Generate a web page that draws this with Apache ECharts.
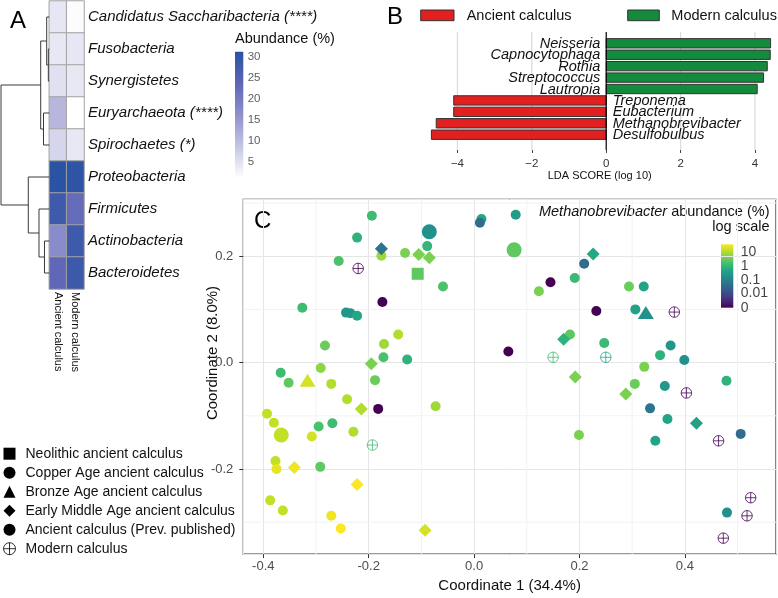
<!DOCTYPE html>
<html><head><meta charset="utf-8">
<script src="https://cdn.jsdelivr.net/npm/echarts@6/dist/echarts.min.js"></script>
<style>html,body{margin:0;padding:0;background:#fff}#c{width:778px;height:598px}</style>
</head><body><div id="c"></div>
<script>
// ---------- Panel A data ----------
const phyla = ['Candidatus Saccharibacteria (****)','Fusobacteria','Synergistetes','Euryarchaeota (****)','Spirochaetes (*)','Proteobacteria','Firmicutes','Actinobacteria','Bacteroidetes'];
const groupsA = ['Ancient calculus','Modern calculus'];
const abundAncient = [4.3, 4.1, 5.1, 10.6, 6.5, 31.0, 28.2, 17.0, 23.5];
const abundModern  = [1.5, 4.3, 4.1, 1.1, 4.1, 30.5, 22.8, 28.3, 28.4];
const abundTicks = [5, 10, 15, 20, 25, 30];
// dendrogram merges: [childA, childB, height]; child = leaf index or 'm<k>' (k-th merge)
const dendroMerges = [[1,2,0.02],[0,'m0',0.054],[3,4,0.12],['m1','m2',0.178],[7,8,0.10],[6,'m4',0.213],[5,'m5',0.435],['m3','m6',1.0]];

// ---------- Panel B data ----------
const ldaTaxa = ['Neisseria','Capnocytophaga','Rothia','Streptococcus','Lautropia','Treponema','Eubacterium','Methanobrevibacter','Desulfobulbus'];
const ldaScores = [4.42, 4.41, 4.33, 4.23, 4.06, -4.10, -4.10, -4.57, -4.70];
const ldaTicks = [-4, -2, 0, 2, 4];

// ---------- Panel C data: [coord1, coord2, Methanobrevibacter abundance %] ----------
const neolithic = [[-0.107, 0.167, 2.7]];
const copperAge = [[-0.085, 0.246, 0.18], [0.076, 0.212, 2.7], [-0.366, -0.136, 14]];
const bronzeAge = [[-0.316, -0.033, 19], [0.326, 0.094, 0.18]];
const earlyMiddleAge = [
  [-0.176, 0.214, 0.06], [-0.105, 0.203, 4.5], [-0.085, 0.197, 4.5], [0.226, 0.204, 0.55],
  [-0.195, -0.002, 4.5], [0.170, 0.044, 0.85], [0.192, -0.027, 4.5], [0.288, -0.059, 4.5],
  [0.422, -0.114, 0.4], [-0.214, -0.087, 11], [-0.341, -0.197, 30], [-0.222, -0.229, 37],
  [-0.093, -0.315, 19]
];
const prevPublished = [
  [-0.194, 0.276, 1.4], [-0.222, 0.235, 0.85], [-0.176, 0.201, 8], [-0.257, 0.191, 1.8],
  [-0.131, 0.206, 4.5], [-0.089, 0.219, 1.0], [-0.059, 0.143, 1.8], [-0.174, 0.114, 0],
  [-0.326, 0.103, 1.4], [-0.243, 0.094, 0.25], [-0.235, 0.093, 0.25], [-0.222, 0.088, 0.55],
  [-0.144, 0.053, 11], [-0.171, 0.035, 8], [-0.283, 0.032, 3.3], [-0.172, 0.010, 1.8],
  [-0.127, 0.006, 0.85], [-0.291, -0.010, 6], [-0.367, -0.019, 1.4], [-0.352, -0.038, 2.7],
  [-0.271, -0.040, 11], [-0.188, -0.033, 3.3], [-0.241, -0.069, 11], [-0.182, -0.087, 0],
  [-0.073, -0.082, 8], [-0.393, -0.096, 14], [-0.380, -0.113, 14], [-0.295, -0.120, 1.8],
  [-0.269, -0.114, 1.4], [-0.229, -0.130, 11], [-0.308, -0.139, 19], [-0.377, -0.185, 14],
  [-0.375, -0.200, 25], [-0.292, -0.196, 2.7], [-0.387, -0.259, 14], [-0.363, -0.278, 14],
  [-0.271, -0.288, 30], [-0.253, -0.312, 37], [0.014, 0.270, 0.55], [0.011, 0.263, 0.04],
  [0.079, 0.278, 0.32], [0.065, 0.021, 0], [0.209, 0.186, 0.04], [0.145, 0.151, 0],
  [0.191, 0.159, 1.2], [0.123, 0.134, 4.5], [0.294, 0.143, 3.3], [0.322, 0.143, 0.45],
  [0.232, 0.097, 0], [0.306, 0.100, 0.4], [0.182, 0.053, 2.7], [0.247, 0.037, 1.2],
  [0.373, 0.032, 0.25], [0.353, 0.014, 0.85], [0.399, 0.005, 0.18], [0.323, -0.008, 4.5],
  [0.305, -0.040, 3.3], [0.362, -0.044, 0.25], [0.479, -0.034, 0.85], [0.334, -0.086, 0.06],
  [0.367, -0.106, 0.45], [0.199, -0.136, 4.5], [0.344, -0.147, 0.45], [0.506, -0.134, 0.04],
  [0.480, -0.282, 0.18]
];
const modern = [
  [-0.220, 0.177, 0], [0.380, 0.095, 0], [0.150, 0.010, 1.4], [0.250, 0.010, 0.45],
  [0.403, -0.057, 0], [0.464, -0.147, 0], [-0.193, -0.155, 1.4], [0.525, -0.254, 0],
  [0.518, -0.288, 0], [0.473, -0.330, 0]
];
const cbarLabels = ['10', '1', '0.1', '0.01', '0'];
const cbarValues = [10, 1, 0.1, 0.01, 0];
const minorX = [-0.3, -0.1, 0.1, 0.3, 0.5];
const minorY = [-0.3, -0.1, 0.1, 0.3];

// ---------- helpers ----------
const FONT = '"Liberation Sans", Arial, Helvetica, sans-serif';
const TXT = '#111';
const LMAX = Math.log10(37.001);
const VIRIDIS = ['#440154','#482475','#414487','#355f8d','#2a788e','#21918c','#22a884','#44bf70','#7ad151','#bddf26','#fde725'];
function hex2rgb(h){return [parseInt(h.slice(1,3),16),parseInt(h.slice(3,5),16),parseInt(h.slice(5,7),16)];}
function viridis(t){
  t = Math.max(0, Math.min(1, t));
  const n = VIRIDIS.length - 1;
  const i = Math.min(n - 1, Math.floor(t * n));
  const f = t * n - i;
  const a = hex2rgb(VIRIDIS[i]), b = hex2rgb(VIRIDIS[i + 1]);
  return 'rgb(' + a.map((v, k) => Math.round(v + (b[k] - v) * f)).join(',') + ')';
}
const logA = a => Math.log10(a + 0.001);
const abundColor = a => viridis((logA(a) + 3) / (LMAX + 3));
const CROSS = 'path://M10,0A10,10,0,1,1,10,20A10,10,0,1,1,10,0ZM10,0L10,20M0,10L20,10';

// heatmap data
const heatData = [];
phyla.forEach((p, i) => { heatData.push([0, i, abundAncient[i]]); heatData.push([1, i, abundModern[i]]); });

// dendrogram segments
const leafNodes = phyla.map((_, i) => ({h: 0, y: i + 0.5}));
const mergedNodes = [];
const dendroSegs = [];
dendroMerges.forEach(([a, b, h]) => {
  const na = typeof a === 'number' ? leafNodes[a] : mergedNodes[+a.slice(1)];
  const nb = typeof b === 'number' ? leafNodes[b] : mergedNodes[+b.slice(1)];
  dendroSegs.push({coords: [[na.h, na.y], [h, na.y], [h, nb.y], [nb.h, nb.y]]});
  mergedNodes.push({h: h, y: (na.y + nb.y) / 2});
});

function pts(arr, hollow) {
  return arr.map(d => hollow
    ? {value: d, itemStyle: {color: 'rgba(0,0,0,0)', borderColor: abundColor(d[2]), borderWidth: 1}}
    : {value: d, itemStyle: {color: abundColor(d[2])}});
}
function scatterSeries(name, arr, symbol, size, hollow) {
  return {
    type: 'scatter', name: name, xAxisIndex: 4, yAxisIndex: 4, symbol: symbol, symbolSize: size,
    data: pts(arr, hollow), z: 3,
    itemStyle: hollow ? {color: 'rgba(0,0,0,0)', borderColor: '#000', borderWidth: 1} : {color: '#000', opacity: 1},
    emphasis: {disabled: true}
  };
}
// vertical / horizontal reference lines drawn through the axes' own scales
function vLines(xi, yi, values, colorFn, width, z) {
  return {type: 'custom', xAxisIndex: xi, yAxisIndex: yi, z: z, silent: true,
    data: values.map(v => [v]),
    renderItem: function (params, api) {
      const cs = params.coordSys;
      const v = api.value(0);
      const x = api.coord([v, 0])[0];
      return {type: 'line', shape: {x1: x, y1: cs.y, x2: x, y2: cs.y + cs.height},
              style: {stroke: colorFn(v), lineWidth: width}};
    }};
}
function hLines(xi, yi, values, color, width, z) {
  return {type: 'custom', xAxisIndex: xi, yAxisIndex: yi, z: z, silent: true,
    encode: {x: 1, y: 0},
    data: values.map(v => [v, 0]),
    renderItem: function (params, api) {
      const cs = params.coordSys;
      const y = api.coord([0, api.value(0)])[1];
      return {type: 'line', shape: {x1: cs.x, y1: y, x2: cs.x + cs.width, y2: y},
              style: {stroke: color, lineWidth: width}};
    }};
}

const chart = echarts.init(document.getElementById('c'), null, {renderer: 'canvas'});

const option = {
  animation: false,
  textStyle: {fontFamily: FONT},
  grid: [
    {left: 49.3, top: 1, width: 34.7, height: 288},                 // 0 A heatmap
    {left: 1, top: 1, width: 48.3, height: 288},                     // 1 A dendrogram
    {left: 235, top: 51.7, width: 8.3, height: 126.6},               // 2 A colorbar labels
    {left: 422.1, top: 32, width: 355.2, height: 118},               // 3 B
    {left: 243.3, top: 199.3, width: 532.7, height: 360.7, show: true, borderColor: '#333', borderWidth: 1.2, backgroundColor: 'rgba(0,0,0,0)'}, // 4 C
    {left: 721, top: 244.3, width: 12.3, height: 63.4}               // 5 C colorbar labels
  ],
  xAxis: [
    {type: 'category', gridIndex: 0, data: groupsA, axisLine: {show: false}, axisTick: {show: false},
     axisLabel: {rotate: -90, fontSize: 11, color: TXT, margin: 3}},
    {type: 'value', gridIndex: 1, min: 0, max: 1, inverse: true, show: false},
    {type: 'value', gridIndex: 2, min: 0, max: 1, show: false},
    {type: 'value', gridIndex: 3, min: -4.95, max: 4.6,
     axisLine: {show: false, onZero: false},
     splitLine: {show: false},
     axisTick: {show: true, length: 3, customValues: ldaTicks, lineStyle: {color: '#444'}},
     axisLabel: {customValues: ldaTicks, fontSize: 11.5, color: '#333', margin: 8,
       formatter: v => (ldaTicks.indexOf(v) < 0 ? '' : String(v).replace('-', '\u2212'))},
     name: 'LDA SCORE (log 10)', nameLocation: 'middle', nameGap: 16, nameTextStyle: {fontSize: 11, color: TXT}},
    {type: 'value', gridIndex: 4, min: -0.438, max: 0.573, splitNumber: 5,
     axisLine: {show: false, onZero: false},
     axisTick: {show: true, length: 4, lineStyle: {color: '#333'}},
     axisLabel: {showMinLabel: false, showMaxLabel: false, fontSize: 13, color: '#4d4d4d', margin: 6,
       formatter: v => v.toFixed(1)},
     splitLine: {show: true, lineStyle: {color: '#e6e6e6', width: 1}},
     name: 'Coordinate 1 (34.4%)', nameLocation: 'middle', nameGap: 21, nameTextStyle: {fontSize: 15, color: TXT}},
    {type: 'value', gridIndex: 5, min: 0, max: 1, show: false}
  ],
  yAxis: [
    {type: 'category', gridIndex: 0, data: phyla, inverse: true, position: 'right',
     axisLine: {show: false}, axisTick: {show: false},
     axisLabel: {fontStyle: 'italic', fontSize: 15, color: TXT, margin: 4}},
    {type: 'value', gridIndex: 1, min: 0, max: 9, inverse: true, show: false},
    {type: 'value', gridIndex: 2, min: 1.1, max: 31.2, show: false},
    {type: 'value', gridIndex: 3, min: -0.99, max: 9.34, inverse: true, show: false},
    {type: 'value', gridIndex: 4, min: -0.36, max: 0.307, splitNumber: 3,
     axisLine: {show: false, onZero: false},
     axisTick: {show: true, length: 4, lineStyle: {color: '#333'}},
     axisLabel: {showMinLabel: false, showMaxLabel: false, fontSize: 13, color: '#4d4d4d', margin: 10,
       formatter: v => v.toFixed(1)},
     splitLine: {show: true, lineStyle: {color: '#e6e6e6', width: 1}}},
    {type: 'value', gridIndex: 5, min: -3, max: LMAX, show: false}
  ],
  visualMap: [{
    type: 'continuous', seriesIndex: 0, dimension: 2, min: 1.1, max: 31.2, show: false,
    inRange: {color: ['#ffffff', '#c5c5e4', '#8f91cd', '#5e66b5', '#2a52a3']}
  }],
  legend: [{
    left: 3, top: 446.7, orient: 'vertical', padding: 0, itemWidth: 12, itemHeight: 12, itemGap: 5,
    selectedMode: false,
    textStyle: {fontSize: 14, color: TXT, padding: [0, 0, 0, 5]},
    data: [
      {name: 'Neolithic ancient calculus', icon: 'rect', itemStyle: {color: '#000'}},
      {name: 'Copper Age ancient calculus', icon: 'circle', itemStyle: {color: '#000'}},
      {name: 'Bronze Age ancient calculus', icon: 'triangle', itemStyle: {color: '#000'}},
      {name: 'Early Middle Age ancient calculus', icon: 'diamond', itemStyle: {color: '#000'}},
      {name: 'Ancient calculus (Prev. published)', icon: 'circle', itemStyle: {color: '#000'}},
      {name: 'Modern calculus', icon: CROSS, itemStyle: {color: 'rgba(0,0,0,0)', borderColor: '#000', borderWidth: 1}}
    ]
  }],
  series: [
    {type: 'heatmap', xAxisIndex: 0, yAxisIndex: 0, data: heatData,
     itemStyle: {borderColor: '#a3a3a3', borderWidth: 1}, emphasis: {disabled: true}},
    {type: 'lines', coordinateSystem: 'cartesian2d', xAxisIndex: 1, yAxisIndex: 1, polyline: true,
     data: dendroSegs, lineStyle: {color: '#3a3a3a', width: 1, opacity: 1}, silent: true},
    {type: 'scatter', xAxisIndex: 2, yAxisIndex: 2, symbolSize: 0, silent: true,
     data: abundTicks.map(v => [1, v]),
     label: {show: true, position: 'right', distance: 4.4, fontSize: 11.5, color: '#333', formatter: p => String(p.value[1])}},
    // B grid lines (light) and zero line (black)
    vLines(3, 3, ldaTicks.filter(v => v !== 0), v => '#dcdcdc', 1.3, 1),
    {type: 'custom', xAxisIndex: 3, yAxisIndex: 3, z: 3, silent: true,
     data: ldaScores.map((v, i) => [v, i]),
     renderItem: function (params, api) {
       const v = api.value(0), i = api.value(1);
       const base = api.coord([0, i]), end = api.coord([v, i]);
       const h = api.size([0, 1])[1] * 0.82;
       const pos = v > 0;
       return {type: 'group', children: [
         {type: 'rect', shape: {x: Math.min(base[0], end[0]), y: base[1] - h / 2, width: Math.abs(end[0] - base[0]), height: h},
          style: {fill: pos ? '#138a3c' : '#e2201f', stroke: '#333', lineWidth: 1}},
         {type: 'text', x: pos ? base[0] - 6 : base[0] + 6.5, y: base[1] + 0.5,
          style: {text: ldaTaxa[params.dataIndex], align: pos ? 'right' : 'left', verticalAlign: 'middle',
                  font: 'italic 14.5px ' + FONT, fill: TXT}}
       ]};
     }},
    vLines(3, 3, [0], v => '#000000', 1.2, 4),
    // C minor grid
    vLines(4, 4, minorX, v => '#f2f2f2', 1, 1),
    hLines(4, 4, minorY, '#f2f2f2', 1, 1),
    scatterSeries('Ancient calculus (Prev. published)', prevPublished, 'circle', 10, false),
    scatterSeries('Neolithic ancient calculus', neolithic, 'rect', 12, false),
    scatterSeries('Copper Age ancient calculus', copperAge, 'circle', 15, false),
    scatterSeries('Bronze Age ancient calculus', bronzeAge, 'triangle', [16, 13], false),
    scatterSeries('Early Middle Age ancient calculus', earlyMiddleAge, 'diamond', 13, false),
    scatterSeries('Modern calculus', modern, CROSS, 10.5, true),
    {type: 'scatter', xAxisIndex: 5, yAxisIndex: 5, symbolSize: 0, silent: true,
     data: cbarValues.map((v, i) => [1, logA(v), cbarLabels[i]]),
     label: {show: true, position: 'right', distance: 7.4, fontSize: 14, color: TXT, formatter: p => p.value[2]}}
  ],
  graphic: [
    {type: 'text', left: 10, top: 9, style: {text: 'A', font: '24px ' + FONT, fill: '#000'}},
    {type: 'text', left: 387, top: 5, style: {text: 'B', font: '24px ' + FONT, fill: '#000'}},
    {type: 'text', x: 254, y: 221.7, style: {text: 'C', font: '24px ' + FONT, fill: '#000', verticalAlign: 'middle'}},
    {type: 'text', x: 235, y: 39, style: {text: 'Abundance (%)', font: '14.5px ' + FONT, fill: TXT, verticalAlign: 'middle'}},
    {type: 'rect', shape: {x: 235, y: 51.7, width: 8.3, height: 126.6},
     style: {fill: {type: 'linear', x: 0, y: 0, x2: 0, y2: 1, colorStops: [
       {offset: 0, color: '#2a52a3'}, {offset: 0.25, color: '#5e66b5'}, {offset: 0.5, color: '#8f91cd'},
       {offset: 0.75, color: '#c5c5e4'}, {offset: 1, color: '#ffffff'}]}}},
    {type: 'rect', shape: {x: 420.7, y: 10, width: 33.3, height: 10.7}, style: {fill: '#e2201f', stroke: '#333', lineWidth: 1}},
    {type: 'text', x: 466.7, y: 15.5, style: {text: 'Ancient calculus', font: '14.5px ' + FONT, fill: TXT, verticalAlign: 'middle'}},
    {type: 'rect', shape: {x: 627.7, y: 10, width: 31.6, height: 10.7}, style: {fill: '#138a3c', stroke: '#333', lineWidth: 1}},
    {type: 'text', x: 671.3, y: 15.5, style: {text: 'Modern calculus', font: '14.5px ' + FONT, fill: TXT, verticalAlign: 'middle'}},
    {type: 'text', x: 769.5, y: 211.7, style: {text: '{i|Methanobrevibacter} abundance (%)', font: '14.5px ' + FONT, fill: TXT,
      align: 'right', verticalAlign: 'middle', rich: {i: {fontStyle: 'italic', fontSize: 14.5, fontFamily: FONT}}}},
    {type: 'text', x: 769.5, y: 226.7, style: {text: 'log scale', font: '14.5px ' + FONT, fill: TXT, align: 'right', verticalAlign: 'middle'}},
    {type: 'rect', shape: {x: 721, y: 244.3, width: 12.3, height: 63.4},
     style: {fill: {type: 'linear', x: 0, y: 0, x2: 0, y2: 1,
       colorStops: VIRIDIS.slice().reverse().map((c, i, a) => ({offset: i / (a.length - 1), color: c}))}}},
    {type: 'text', x: 212.5, y: 353, rotation: Math.PI / 2,
     style: {text: 'Coordinate 2 (8.0%)', font: '15px ' + FONT, fill: TXT, align: 'center', verticalAlign: 'middle'}}
  ]
};
chart.setOption(option);
</script>
</body></html>
